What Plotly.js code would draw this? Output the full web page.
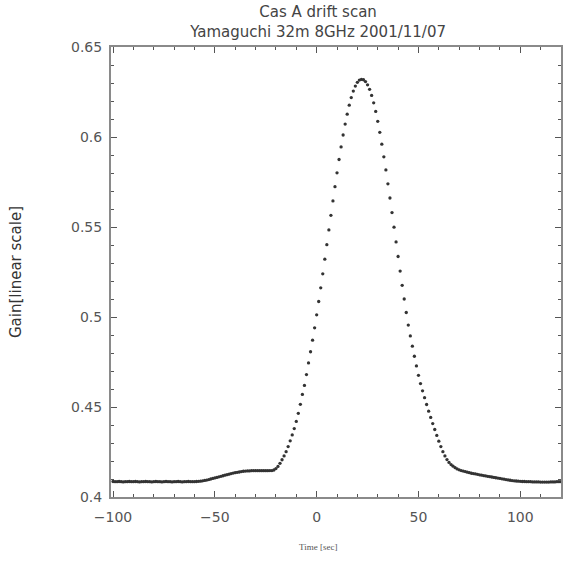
<!DOCTYPE html>
<html>
<head>
<meta charset="utf-8">
<script src="https://cdn.plot.ly/plotly-3.0.1.min.js"></script>
<style>html,body{margin:0;padding:0;background:#fff;}#chart{width:563px;height:576px;}</style>
</head>
<body>
<div id="chart"></div>
<script>
// Sampling grid (seconds)
const timeStart = -100;
const timeStep = 1;

// Gain values, in time order
const gainLeftBase = [0.4086,0.4085,0.4085,0.4086,0.4085,0.4084,0.4085,0.4085,0.4086,0.4085,
  0.4085,0.4086,0.4085,0.4084,0.4085,0.4085,0.4086,0.4085,0.4085,0.4084,
  0.4085,0.4086,0.4085,0.4085,0.4084,0.4085,0.4086,0.4085,0.4085,0.4084,
  0.4085,0.4085,0.4086,0.4085,0.4084,0.4085,0.4085,0.4086,0.4085,0.4085,
  0.4085];
const gainLeftShoulder = [0.4086,0.4087,0.4088,0.4090,0.4092,0.4094,0.4097,0.4100,0.4103,0.4106,
  0.4109,0.4112,0.4115,0.4118,0.4121,0.4124,0.4127,0.4130,0.4133,0.4135,
  0.4137,0.4139,0.4141,0.4143,0.4144,0.4145,0.4145,0.4146,0.4146,0.4146,
  0.4146,0.4146,0.4146,0.4146,0.4146,0.4146,0.4147];
const gainRise = [0.4147,0.4150,0.4158,0.4170,0.4187,0.4207,0.4228,0.4252,0.4280,0.4312,
  0.4345,0.4380,0.4420,0.4465,0.4515,0.4570,0.4620,0.4680,0.4745,0.4807,
  0.4871,0.4940];
const gainPeakLeft = [0.5012,0.5086,0.5162,0.5240,0.5321,0.5402,0.5484,0.5565,0.5645,0.5724,
  0.5801,0.5875,0.5945,0.6011,0.6072,0.6127,0.6177,0.6219,0.6255,0.6283,
  0.6304,0.6316,0.6320];
const gainPeakRight = [0.6318,0.6308,0.6290,0.6265,0.6231,0.6190,0.6142,0.6087,0.6026,0.5960,
  0.5890,0.5817,0.5740,0.5661,0.5580,0.5499,0.5417,0.5336,0.5255,0.5176,
  0.5100,0.5025];
const gainFall = [0.4955,0.4895,0.4838,0.4782,0.4728,0.4676,0.4630,0.4590,0.4552,0.4514,
  0.4477,0.4442,0.4408,0.4375,0.4342,0.4310,0.4280,0.4252,0.4228,0.4208,
  0.4192,0.4180,0.4171,0.4163,0.4156,0.4151,0.4147,0.4144,0.4141,0.4138,
  0.4135,0.4132,0.4130,0.4128,0.4126,0.4123];
const gainRightBase = [0.4121,0.4119,0.4117,0.4115,0.4113,0.4111,0.4109,0.4107,0.4105,0.4103,
  0.4101,0.4099,0.4097,0.4095,0.4093,0.4091,0.4090,0.4089,0.4088,0.4087,
  0.4086,0.4086,0.4085,0.4085,0.4085,0.4084,0.4084,0.4084,0.4084,0.4083,
  0.4083,0.4083,0.4083,0.4083,0.4084,0.4084,0.4084,0.4085,0.4085,0.4085];

const gain = [].concat(gainLeftBase, gainLeftShoulder, gainRise, gainPeakLeft,
                       gainPeakRight, gainFall, gainRightBase);

const titleLines = ['Cas A drift scan', 'Yamaguchi 32m 8GHz 2001/11/07'];
const xTitle = 'Time [sec]';
const yTitle = 'Gain[linear scale]';

const axisCommon = {
  showgrid: false, zeroline: false,
  showline: true, linecolor: '#8a8a8a', linewidth: 2,
  mirror: 'allticks', ticks: 'inside', ticklen: 6, tickwidth: 1, tickcolor: '#555',
  tickfont: {family: 'DejaVu Sans', size: 14, color: '#555'}
};

const trace = {
  type: 'scatter', mode: 'markers',
  x0: timeStart, dx: timeStep, y: gain,
  marker: {symbol: 'circle', size: 3.3, color: '#333'},
  hoverinfo: 'skip'
};

const layout = {
  width: 563, height: 576,
  margin: {l: 111, r: 2, t: 47, b: 79},
  paper_bgcolor: '#fff', plot_bgcolor: '#fff',
  showlegend: false,
  title: {
    text: titleLines.join('<br>'),
    font: {family: 'DejaVu Sans', size: 15, color: '#444'},
    xref: 'container', x: 0.565, xanchor: 'center',
    yref: 'container', y: 0.97, yanchor: 'top'
  },
  xaxis: Object.assign({}, axisCommon, {
    range: [-101, 120], tickvals: [-100, -50, 0, 50, 100],
    ticklabelstandoff: 6,
    minor: {dtick: 10, tick0: 0, ticks: 'inside', ticklen: 3, tickcolor: '#555'}
  }),
  yaxis: Object.assign({}, axisCommon, {
    range: [0.4, 0.65], tickvals: [0.4, 0.45, 0.5, 0.55, 0.6, 0.65],
    ticktext: ['0.4', '0.45', '0.5', '0.55', '0.6', '0.65'],
    ticklabelstandoff: 4,
    minor: {dtick: 0.01, tick0: 0, ticks: 'inside', ticklen: 3, tickcolor: '#555'},
    title: {text: yTitle, font: {family: 'DejaVu Sans', size: 15, color: '#333'}, standoff: 46}
  }),
  annotations: [{
    text: xTitle, xref: 'paper', yref: 'paper', x: 0.46, y: -0.11,
    xanchor: 'center', yanchor: 'middle', showarrow: false,
    font: {family: 'Liberation Serif', size: 9, color: '#555'}
  }]
};

Plotly.newPlot('chart', [trace], layout, {displayModeBar: false, staticPlot: true});
</script>
</body>
</html>
